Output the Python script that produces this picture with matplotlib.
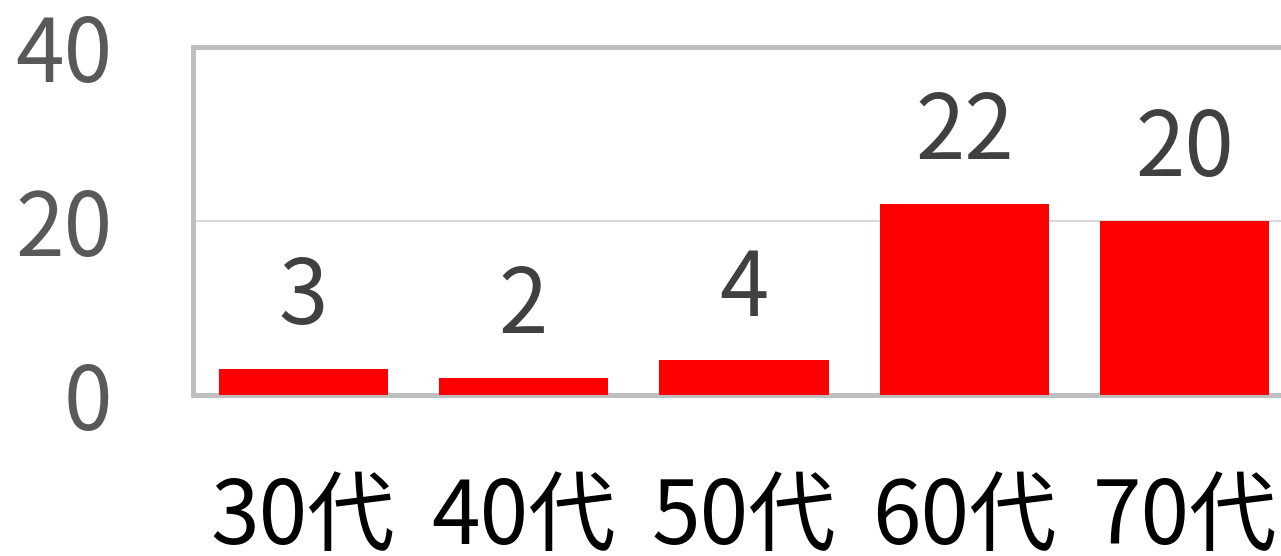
import matplotlib
matplotlib.use('Agg')
import matplotlib.pyplot as plt

plt.rcParams['font.family'] = ['Noto Sans CJK JP', 'DejaVu Sans']

# data
categories = ['30代', '40代', '50代', '60代', '70代']
values = [3, 2, 4, 22, 20]
yticks = [0, 20, 40]

fig = plt.figure(figsize=(12.81, 5.56), dpi=100)
ax = fig.add_axes([193 / 1281, 1 - 395 / 556, (1295 - 193) / 1281, (395 - 47) / 556])

x = range(len(categories))
bars = ax.bar(x, values, width=0.767, color='#FF0000', zorder=3)

for b, v in zip(bars, values):
    ax.annotate(str(v), (b.get_x() + b.get_width() / 2, v), xytext=(0, 17),
                textcoords='offset points', ha='center', va='bottom',
                fontsize=64, color='#404040')

ax.set_xlim(-0.5, len(categories) - 0.5)
ax.set_ylim(0, 40)
ax.set_yticks(yticks)
ax.set_xticks(list(x))
ax.set_xticklabels(categories)

ax.grid(axis='y', color='#D9D9D9', linewidth=1.5, zorder=0)
for s in ax.spines.values():
    s.set_color('#BFBFBF')
    s.set_linewidth(3.6)

ax.tick_params(axis='y', length=0, pad=58, labelsize=63, labelcolor='#595959')
ax.tick_params(axis='x', length=0, pad=57, labelsize=63, labelcolor='#000000')

fig.savefig('out.png', dpi=100)
